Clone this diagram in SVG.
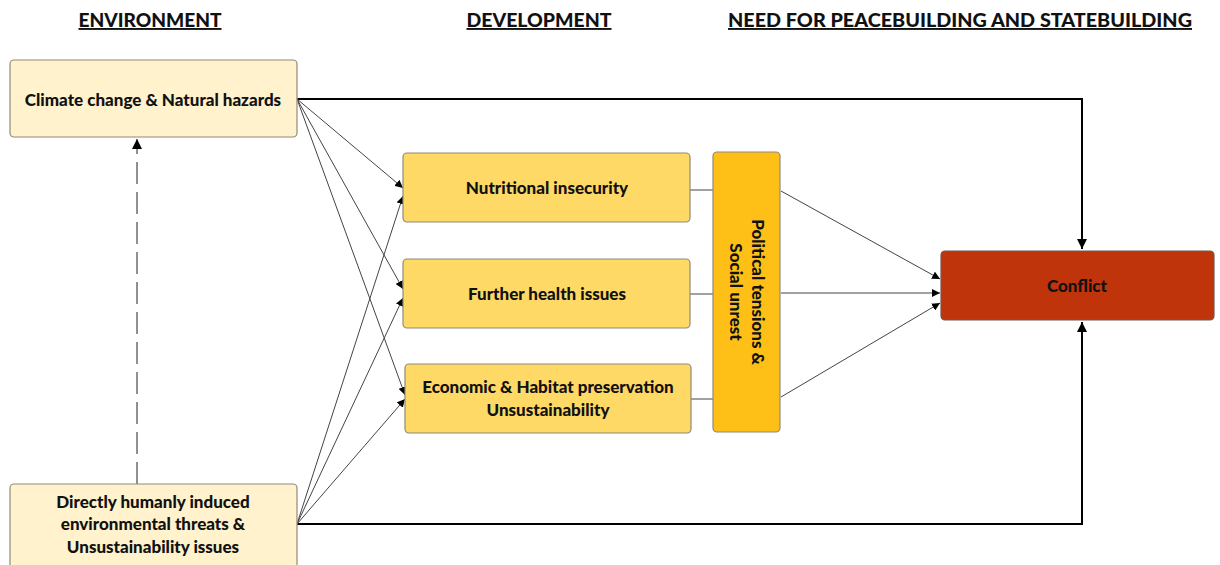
<svg xmlns="http://www.w3.org/2000/svg" width="1220" height="565" viewBox="0 0 1220 565">
<defs>
<marker id="ah" viewBox="0 0 10 10" refX="10" refY="5" markerWidth="8" markerHeight="8" markerUnits="userSpaceOnUse" orient="auto"><path d="M0,0 L10,5 L0,10 z" fill="#000"/></marker>
<marker id="ahb" viewBox="0 0 10 10" refX="10" refY="5" markerWidth="10" markerHeight="10" markerUnits="userSpaceOnUse" orient="auto"><path d="M0,0 L10,5 L0,10 z" fill="#000"/></marker>
</defs>
<style>
text{font-family:Lato,"Liberation Sans",sans-serif;font-weight:900;fill:#111;text-anchor:middle}
.h{font-size:19px;text-decoration:underline}
.t{font-size:17px}
.env{fill:#FFF2CC;stroke:#8f8a7a;stroke-width:1.2}
.dev{fill:#FFD966;stroke:#8f8a7a;stroke-width:1.2}
.pol{fill:#FEC017;stroke:#8f8a7a;stroke-width:1.2}
.con{fill:#BF340A;stroke:#6e5b50;stroke-width:1.2}
.thin{stroke:#444;stroke-width:1;fill:none}
.thick{stroke:#000;stroke-width:2;fill:none}
</style>
<g id="headers">
<text class="h" x="150" y="27" textLength="143" lengthAdjust="spacingAndGlyphs">ENVIRONMENT</text>
<text class="h" x="539" y="27" textLength="145" lengthAdjust="spacingAndGlyphs">DEVELOPMENT</text>
<text class="h" x="960" y="27" textLength="464" lengthAdjust="spacingAndGlyphs">NEED FOR PEACEBUILDING AND STATEBUILDING</text>
</g>
<g id="connectors">
<path d="M137,484 V139" stroke="#222" stroke-width="1" fill="none" stroke-dasharray="22,8" marker-end="url(#ahb)"/>
<path class="thick" d="M297,99 H1082 V249" marker-end="url(#ahb)"/>
<path class="thick" d="M297,524 H1082 V322" marker-end="url(#ahb)"/>
<line class="thin" x1="297" y1="99" x2="403" y2="188" marker-end="url(#ah)"/>
<line class="thin" x1="297" y1="99" x2="403" y2="289" marker-end="url(#ah)"/>
<line class="thin" x1="297" y1="99" x2="405" y2="395" marker-end="url(#ah)"/>
<line class="thin" x1="297" y1="524" x2="403" y2="196" marker-end="url(#ah)"/>
<line class="thin" x1="297" y1="524" x2="403" y2="298" marker-end="url(#ah)"/>
<line class="thin" x1="297" y1="524" x2="405" y2="399" marker-end="url(#ah)"/>
<line class="thin" x1="690" y1="190" x2="713" y2="190"/>
<line class="thin" x1="690" y1="294" x2="713" y2="294"/>
<line class="thin" x1="691" y1="399" x2="713" y2="399"/>
<line class="thin" x1="781" y1="191" x2="940" y2="279" marker-end="url(#ah)"/>
<line class="thin" x1="781" y1="293" x2="940" y2="293" marker-end="url(#ah)"/>
<line class="thin" x1="781" y1="397" x2="940" y2="303" marker-end="url(#ah)"/>
</g>
<g id="climate">
<rect class="env" x="10" y="60" width="287" height="77" rx="4"/>
<text class="t" x="153" y="106">Climate change &amp; Natural hazards</text>
</g>
<g id="human">
<rect class="env" x="10" y="484" width="287" height="95" rx="4"/>
<text class="t" x="153" y="508">Directly humanly induced</text>
<text class="t" x="153" y="530">environmental threats &amp;</text>
<text class="t" x="153" y="553">Unsustainability issues</text>
</g>
<g id="nutrition">
<rect class="dev" x="403" y="153" width="287" height="69" rx="4"/>
<text class="t" x="547" y="194">Nutritional insecurity</text>
</g>
<g id="health">
<rect class="dev" x="403" y="259" width="287" height="69" rx="4"/>
<text class="t" x="547" y="300">Further health issues</text>
</g>
<g id="economic">
<rect class="dev" x="405" y="364" width="286" height="69" rx="4"/>
<text class="t" x="548" y="393">Economic &amp; Habitat preservation</text>
<text class="t" x="548" y="416">Unsustainability</text>
</g>
<g id="political">
<rect class="pol" x="713" y="152" width="67" height="280" rx="4"/>
<g transform="translate(746,292) rotate(90)">
<text class="t" x="0" y="-6">Political tensions &amp;</text>
<text class="t" x="0" y="16">Social unrest</text>
</g>
</g>
<g id="conflict">
<rect class="con" x="941" y="251" width="273" height="69" rx="4"/>
<text class="t" x="1077" y="292">Conflict</text>
</g>
</svg>
